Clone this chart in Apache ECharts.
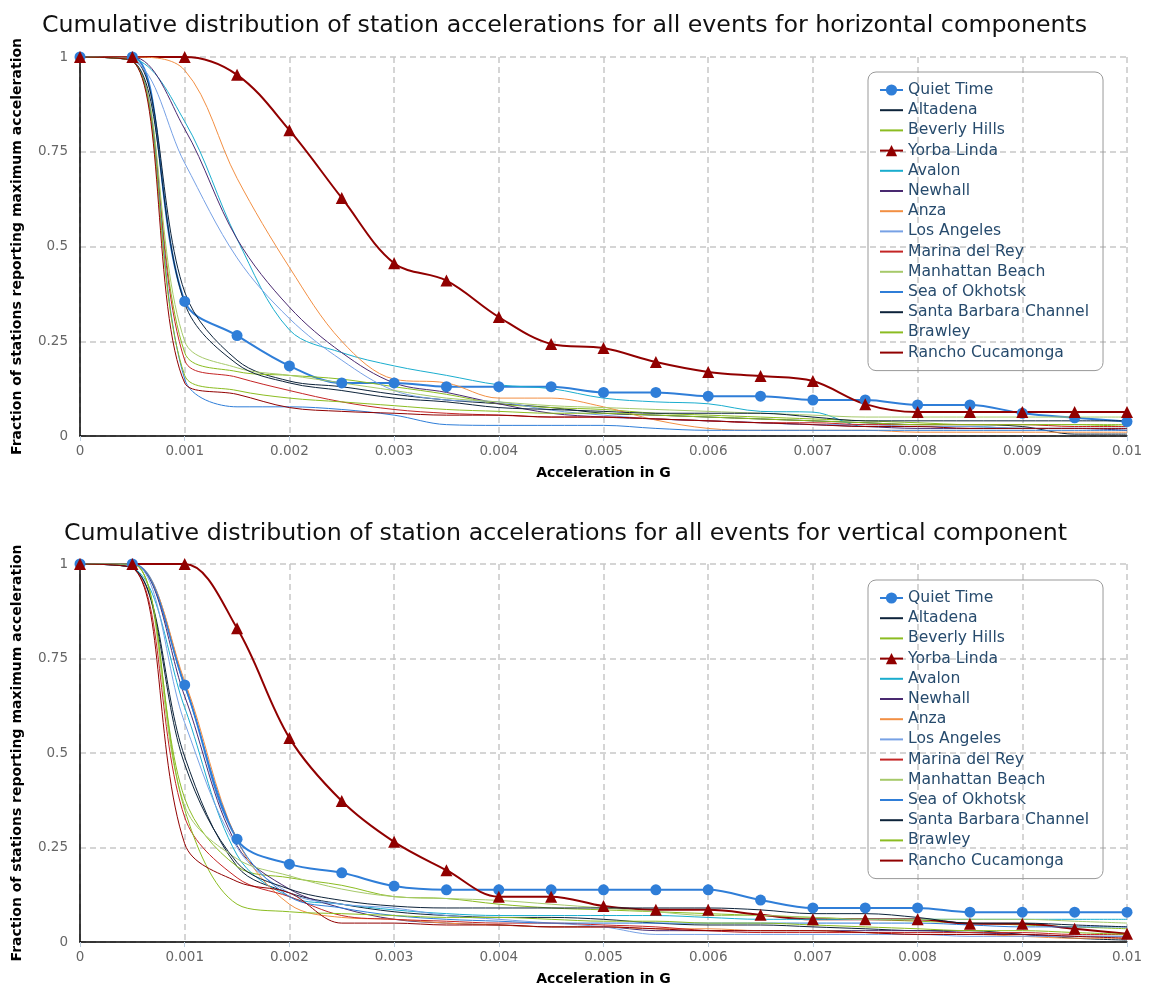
<!DOCTYPE html>
<html>
<head>
<meta charset="utf-8">
<script src="https://cdn.jsdelivr.net/npm/echarts@6/dist/echarts.min.js"></script>
<style>
  html, body { margin: 0; padding: 0; background: #fff; }
  #main { width: 1151px; height: 997px; }
</style>
</head>
<body>
<div id="main"></div>
<script>
// acceleration steps (G)
var accel = [0, 0.0005, 0.001, 0.0015, 0.002, 0.0025, 0.003, 0.0035, 0.004, 0.0045, 0.005,
             0.0055, 0.006, 0.0065, 0.007, 0.0075, 0.008, 0.0085, 0.009, 0.0095, 0.01];

var stations = ['Quiet Time', 'Altadena', 'Beverly Hills', 'Yorba Linda', 'Avalon', 'Newhall', 'Anza',
                'Los Angeles', 'Marina del Rey', 'Manhattan Beach', 'Sea of Okhotsk',
                'Santa Barbara Channel', 'Brawley', 'Rancho Cucamonga'];
var colors = ['#2f7ed8', '#0d233a', '#8bbc21', '#910000', '#1aadce', '#492970', '#f28f43',
              '#77a1e5', '#c42525', '#a6c96a', '#2f7ed8', '#0d233a', '#8bbc21', '#910000'];

// horizontal components
var hQuiet     = [1, 1, 0.355, 0.265, 0.185, 0.14, 0.14, 0.13, 0.13, 0.13, 0.115, 0.115, 0.105, 0.105, 0.095, 0.095, 0.082, 0.082, 0.06, 0.048, 0.038];
var hAltadena  = [1, 0.995, 0.38, 0.2, 0.145, 0.13, 0.11, 0.095, 0.085, 0.075, 0.06, 0.055, 0.05, 0.045, 0.04, 0.035, 0.03, 0.03, 0.025, 0.005, 0.005];
var hBeverly   = [1, 0.99, 0.22, 0.17, 0.16, 0.15, 0.13, 0.11, 0.085, 0.075, 0.07, 0.06, 0.055, 0.05, 0.045, 0.04, 0.035, 0.03, 0.03, 0.03, 0.025];
var hYorba     = [1, 1, 1, 0.953, 0.807, 0.628, 0.456, 0.41, 0.314, 0.243, 0.232, 0.195, 0.169, 0.158, 0.145, 0.084, 0.063, 0.063, 0.063, 0.063, 0.063];
var hAvalon    = [1, 0.995, 0.83, 0.52, 0.28, 0.22, 0.185, 0.16, 0.135, 0.125, 0.1, 0.09, 0.085, 0.065, 0.063, 0.025, 0.025, 0.025, 0.02, 0.02, 0.02];
var hNewhall   = [1, 1, 0.81, 0.52, 0.34, 0.22, 0.14, 0.115, 0.085, 0.06, 0.05, 0.045, 0.04, 0.035, 0.03, 0.025, 0.02, 0.02, 0.02, 0.02, 0.015];
var hAnza      = [1, 1, 0.965, 0.68, 0.445, 0.25, 0.15, 0.14, 0.1, 0.1, 0.077, 0.042, 0.02, 0.015, 0.015, 0.015, 0.01, 0.01, 0.01, 0.01, 0.01];
var hLosAng    = [1, 0.99, 0.72, 0.47, 0.31, 0.2, 0.12, 0.095, 0.09, 0.068, 0.055, 0.045, 0.04, 0.035, 0.03, 0.03, 0.025, 0.025, 0.02, 0.02, 0.02];
var hMarina    = [1, 0.99, 0.2, 0.155, 0.12, 0.09, 0.07, 0.06, 0.055, 0.05, 0.05, 0.045, 0.04, 0.035, 0.035, 0.03, 0.03, 0.03, 0.03, 0.025, 0.025];
var hManhattan = [1, 0.99, 0.25, 0.18, 0.16, 0.14, 0.12, 0.1, 0.09, 0.08, 0.075, 0.07, 0.065, 0.06, 0.055, 0.05, 0.05, 0.05, 0.05, 0.05, 0.05];
var hOkhotsk   = [1, 0.99, 0.15, 0.077, 0.077, 0.07, 0.055, 0.03, 0.028, 0.028, 0.028, 0.02, 0.015, 0.015, 0.015, 0.015, 0.015, 0.015, 0.015, 0.015, 0.015];
var hSantaB    = [1, 0.99, 0.35, 0.19, 0.14, 0.12, 0.1, 0.09, 0.075, 0.07, 0.065, 0.06, 0.06, 0.06, 0.05, 0.04, 0.04, 0.04, 0.04, 0.04, 0.04];
var hBrawley   = [1, 0.99, 0.16, 0.12, 0.1, 0.09, 0.08, 0.07, 0.065, 0.06, 0.06, 0.055, 0.05, 0.045, 0.04, 0.035, 0.03, 0.03, 0.03, 0.03, 0.03];
var hRancho    = [1, 0.99, 0.14, 0.11, 0.075, 0.065, 0.06, 0.055, 0.055, 0.05, 0.05, 0.045, 0.04, 0.035, 0.03, 0.025, 0.025, 0.02, 0.02, 0.02, 0.02];

// vertical component
var vQuiet     = [1, 1, 0.68, 0.272, 0.206, 0.183, 0.148, 0.138, 0.138, 0.138, 0.138, 0.138, 0.138, 0.111, 0.09, 0.09, 0.09, 0.079, 0.079, 0.079, 0.079];
var vAltadena  = [1, 0.99, 0.49, 0.2, 0.13, 0.1, 0.08, 0.07, 0.065, 0.065, 0.06, 0.05, 0.045, 0.045, 0.04, 0.035, 0.03, 0.03, 0.02, 0.01, 0.005];
var vBeverly   = [1, 1, 0.38, 0.2, 0.17, 0.15, 0.12, 0.115, 0.1, 0.09, 0.085, 0.08, 0.075, 0.07, 0.065, 0.06, 0.055, 0.05, 0.045, 0.04, 0.035];
var vYorba     = [1, 1, 1, 0.83, 0.54, 0.373, 0.265, 0.19, 0.12, 0.12, 0.095, 0.085, 0.085, 0.072, 0.06, 0.06, 0.06, 0.048, 0.048, 0.035, 0.022];
var vAvalon    = [1, 0.99, 0.62, 0.23, 0.12, 0.1, 0.085, 0.075, 0.07, 0.07, 0.07, 0.07, 0.065, 0.06, 0.06, 0.06, 0.06, 0.06, 0.06, 0.06, 0.06];
var vNewhall   = [1, 1, 0.65, 0.255, 0.14, 0.09, 0.06, 0.05, 0.045, 0.04, 0.04, 0.03, 0.03, 0.03, 0.03, 0.03, 0.03, 0.025, 0.02, 0.015, 0.015];
var vAnza      = [1, 1, 0.69, 0.27, 0.1, 0.065, 0.06, 0.05, 0.045, 0.04, 0.04, 0.035, 0.035, 0.03, 0.03, 0.025, 0.02, 0.02, 0.015, 0.01, 0.01];
var vLosAng    = [1, 1, 0.58, 0.25, 0.13, 0.1, 0.09, 0.07, 0.06, 0.05, 0.04, 0.02, 0.02, 0.02, 0.02, 0.02, 0.02, 0.015, 0.015, 0.015, 0.015];
var vMarina    = [1, 0.99, 0.33, 0.17, 0.12, 0.07, 0.06, 0.055, 0.05, 0.05, 0.045, 0.04, 0.03, 0.025, 0.025, 0.025, 0.025, 0.025, 0.025, 0.02, 0.02];
var vManhattan = [1, 1, 0.36, 0.22, 0.175, 0.14, 0.12, 0.115, 0.11, 0.1, 0.09, 0.08, 0.07, 0.07, 0.065, 0.06, 0.06, 0.06, 0.06, 0.055, 0.05];
var vOkhotsk   = [1, 1, 0.675, 0.27, 0.12, 0.09, 0.07, 0.06, 0.055, 0.05, 0.05, 0.05, 0.05, 0.05, 0.05, 0.05, 0.05, 0.045, 0.04, 0.04, 0.04];
var vSantaB    = [1, 0.99, 0.47, 0.21, 0.14, 0.11, 0.095, 0.09, 0.09, 0.09, 0.09, 0.09, 0.09, 0.085, 0.075, 0.075, 0.065, 0.05, 0.05, 0.045, 0.04];
var vBrawley   = [1, 1, 0.35, 0.1, 0.08, 0.075, 0.07, 0.065, 0.065, 0.06, 0.055, 0.055, 0.05, 0.05, 0.045, 0.04, 0.035, 0.03, 0.03, 0.025, 0.02];
var vRancho    = [1, 0.99, 0.26, 0.16, 0.13, 0.05, 0.05, 0.045, 0.045, 0.04, 0.04, 0.035, 0.03, 0.03, 0.03, 0.025, 0.02, 0.02, 0.02, 0.015, 0.01];

var hData = [hQuiet, hAltadena, hBeverly, hYorba, hAvalon, hNewhall, hAnza, hLosAng, hMarina, hManhattan, hOkhotsk, hSantaB, hBrawley, hRancho];
var vData = [vQuiet, vAltadena, vBeverly, vYorba, vAvalon, vNewhall, vAnza, vLosAng, vMarina, vManhattan, vOkhotsk, vSantaB, vBrawley, vRancho];

var FONT = 'DejaVu Sans';

function pairs(ys) {
    var out = [];
    for (var i = 0; i < accel.length; i++) out.push([accel[i], ys[i]]);
    return out;
}

// only these two series carry markers
function hasMarker(i) { return i == 0 || i == 3; }

function buildSeries(list, idx) {
    var out = [];
    for (var i = 0; i < stations.length; i++) {
        var s = {
            name: stations[i],
            type: 'line',
            xAxisIndex: idx,
            yAxisIndex: idx,
            data: pairs(list[i]),
            smooth: 0.35,
            color: colors[i],
            lineStyle: { width: 1 },
            symbol: 'none'
        };
        if (i == 0) {
            s.symbol = 'circle';
            s.symbolSize = 11;
            s.lineStyle.width = 2;
        } else if (i == 3) {
            s.symbol = 'triangle';
            s.symbolSize = 12;
            s.lineStyle.width = 2;
        }
        out.push(s);
    }
    return out;
}

function xAxisOf(idx) {
    return {
        gridIndex: idx, type: 'value', min: 0, max: 0.01, interval: 0.001,
        name: 'Acceleration in G', nameLocation: 'middle', nameGap: 30,
        nameTextStyle: { fontFamily: FONT, fontWeight: 'bold', fontSize: 14, color: '#000' },
        axisLine: { onZero: false, lineStyle: { color: '#000', width: 1.5 } },
        axisTick: { show: true, length: 5, lineStyle: { color: '#c0d0e0' } },
        axisLabel: {
            fontFamily: FONT, fontSize: 13.5, color: '#666', margin: 8,
            formatter: function (v) { return String(parseFloat(v.toFixed(4))); }
        },
        splitLine: { show: true, lineStyle: { color: '#c8c8c8', type: [6, 4], width: 1.5 } }
    };
}

function yAxisOf(idx) {
    return {
        gridIndex: idx, type: 'value', min: 0, max: 1, interval: 0.25,
        name: 'Fraction of stations reporting maximum acceleration', nameLocation: 'middle', nameGap: 56,
        nameTextStyle: { fontFamily: FONT, fontWeight: 'bold', fontSize: 14, color: '#000' },
        axisLine: { show: true, lineStyle: { color: '#000', width: 1.5 } },
        axisTick: { show: false },
        axisLabel: { fontFamily: FONT, fontSize: 13.5, color: '#666', margin: 12 },
        splitLine: { show: true, lineStyle: { color: '#c8c8c8', type: [6, 4], width: 1.5 } }
    };
}

function legendOf(top) {
    var items = [];
    for (var i = 0; i < stations.length; i++) {
        // hide the dot for plain line series
        items.push(hasMarker(i) ? { name: stations[i] } : { name: stations[i], itemStyle: { opacity: 0 } });
    }
    return {
        orient: 'vertical', left: 868, top: top,
        data: items,
        itemWidth: 23, itemHeight: 14, itemGap: 4.2,
        padding: [10, 14, 10, 11],
        borderColor: '#999', borderWidth: 1, borderRadius: 8,
        textStyle: { fontFamily: FONT, fontSize: 15.6, color: '#274b6d' }
    };
}

var myChart = echarts.init(document.getElementById('main'));
var option = {
    animation: false,
    title: [
        { text: 'Cumulative distribution of station accelerations for all events for horizontal components',
          left: 42, top: 14, padding: 0, textStyle: { fontFamily: FONT, fontWeight: 'normal', fontSize: 23.7, color: '#111' } },
        { text: 'Cumulative distribution of station accelerations for all events for vertical component',
          left: 64, top: 522, padding: 0, textStyle: { fontFamily: FONT, fontWeight: 'normal', fontSize: 23.7, color: '#111' } }
    ],
    legend: [legendOf(72), legendOf(580)],
    grid: [
        { left: 80, right: 24, top: 57, height: 379 },
        { left: 80, right: 24, top: 564, height: 378 }
    ],
    xAxis: [xAxisOf(0), xAxisOf(1)],
    yAxis: [yAxisOf(0), yAxisOf(1)],
    series: buildSeries(hData, 0).concat(buildSeries(vData, 1))
};
myChart.setOption(option);
</script>
</body>
</html>
